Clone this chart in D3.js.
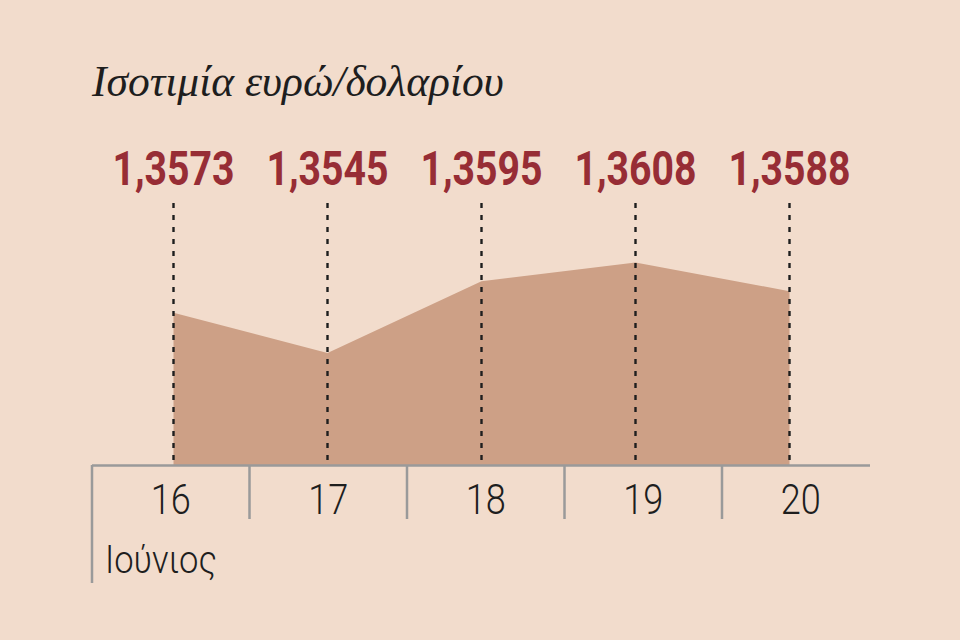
<!DOCTYPE html>
<html>
<head>
<meta charset="utf-8">
<script src="https://cdn.jsdelivr.net/npm/d3@7"></script>
<style>
  html, body { margin: 0; padding: 0; background: #f2dccc; }
  svg { display: block; }
</style>
</head>
<body>
<svg id="chart" width="960" height="640"></svg>
<script>
const title = "Ισοτιμία ευρώ/δολαρίου";
const days = ["16", "17", "18", "19", "20"];
const rates = [1.3573, 1.3545, 1.3595, 1.3608, 1.3588];
const rateLabels = ["1,3573", "1,3545", "1,3595", "1,3608", "1,3588"];
const monthLabel = "Ιούνιος";

const svg = d3.select("#chart");
svg.append("rect").attr("width", 960).attr("height", 640).attr("fill", "#f2dccc");

const x = d3.scalePoint().domain(days).range([173.5, 789.5]);
const band = d3.scaleBand().domain(days).range([92, 879.5]).padding(0);
const y = d3.scaleLinear().domain([1.3467, 1.3608]).range([465, 262.5]);

const data = days.map((d, i) => ({ day: d, v: rates[i], label: rateLabels[i] }));

// condense text horizontally by a factor
function condense(sel, factor) {
  sel.each(function () {
    const w = this.getComputedTextLength();
    d3.select(this).attr("textLength", w * factor).attr("lengthAdjust", "spacingAndGlyphs");
  });
}

// area
const area = d3.area()
  .x(d => x(d.day))
  .y0(y(1.3467))
  .y1(d => y(d.v));
svg.append("path").datum(data)
  .attr("d", area)
  .attr("fill", "#cda086");

// dashed lines
svg.append("g").selectAll("line").data(data).join("line")
  .attr("x1", d => x(d.day)).attr("x2", d => x(d.day))
  .attr("y1", 203).attr("y2", 464)
  .attr("stroke", "#1e1e1e")
  .attr("stroke-width", 2.4)
  .attr("stroke-dasharray", "5,7");

// value labels
svg.append("g").selectAll("text").data(data).join("text")
  .attr("x", d => x(d.day))
  .attr("y", 185)
  .attr("text-anchor", "middle")
  .attr("font-family", "Roboto, sans-serif")
  .attr("font-weight", "bold")
  .attr("font-size", 49)
  .attr("fill", "#972d35")
  .text(d => d.label)
  .call(condense, 0.8);

// axis baseline
svg.append("line")
  .attr("x1", 92).attr("x2", 870)
  .attr("y1", 465.5).attr("y2", 465.5)
  .attr("stroke", "#9a9a9a").attr("stroke-width", 2.5);

// separators
svg.append("g").selectAll("line").data(days).join("line")
  .attr("x1", d => band(d)).attr("x2", d => band(d))
  .attr("y1", 465).attr("y2", (d, i) => i === 0 ? 583 : 519)
  .attr("stroke", "#9a9a9a").attr("stroke-width", 2.5);

// day labels
svg.append("g").selectAll("text").data(days).join("text")
  .attr("x", d => band(d) + band.bandwidth() / 2)
  .attr("y", 514)
  .attr("text-anchor", "middle")
  .attr("font-family", "Roboto, sans-serif")
  .attr("font-weight", 300)
  .attr("font-size", 43)
  .attr("fill", "#1e1e1e")
  .text(d => d)
  .call(condense, 0.84);

// month label
svg.append("text")
  .attr("x", 105).attr("y", 573)
  .attr("font-family", "Roboto, sans-serif")
  .attr("font-weight", 300)
  .attr("font-size", 38)
  .attr("fill", "#1e1e1e")
  .text(monthLabel)
  .call(condense, 0.91);

// title
svg.append("text")
  .attr("x", 92).attr("y", 96)
  .attr("font-family", "'Liberation Serif', 'DejaVu Serif', serif")
  .attr("font-style", "italic")
  .attr("font-size", 43.5)
  .attr("fill", "#1e1e1e")
  .text(title);
</script>
</body>
</html>
